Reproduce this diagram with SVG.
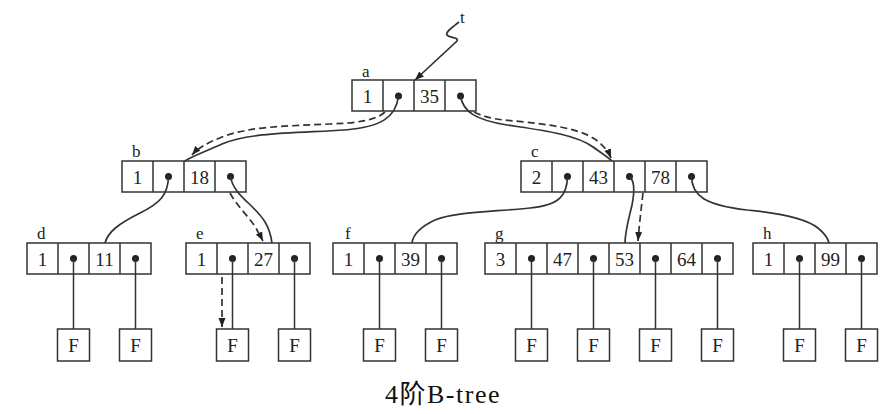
<svg xmlns="http://www.w3.org/2000/svg" width="894" height="414" viewBox="0 0 894 414">
<defs>
<style>
.cell{fill:none;stroke:#333;stroke-width:1.5}
.num{font-family:"Liberation Serif",serif;font-size:19px;fill:#222;text-anchor:middle}
.lbl{font-family:"Liberation Serif",serif;font-size:17px;fill:#222}
.dot{fill:#222}
.ptr{stroke:#333;stroke-width:1.5;fill:none}
.con{stroke:#333;stroke-width:1.7;fill:none}
.dash{stroke:#333;stroke-width:1.7;fill:none;stroke-dasharray:7 4}
.cap{font-family:"Liberation Serif",serif;font-size:26px;fill:#111;letter-spacing:1.5px}
.cjk{font-family:"Noto Sans CJK SC",sans-serif}
</style>
<marker id="arr" markerUnits="userSpaceOnUse" markerWidth="10" markerHeight="8" refX="9" refY="3.5" orient="auto">
<path d="M0,0 L9,3.5 L0,7 z" fill="#222"/>
</marker>
</defs>
<rect width="894" height="414" fill="#fff"/>

<!-- node a -->
<g id="node-a">
<rect class="cell" x="352" y="80" width="124" height="31"/>
<path class="cell" d="M383,80V111M414,80V111M445,80V111"/>
<text class="lbl" x="362" y="77">a</text>
<text class="num" x="367.5" y="103">1</text>
<text class="num" x="429.5" y="103">35</text>
<circle class="dot" cx="398.5" cy="96" r="3.5"/>
<circle class="dot" cx="460.5" cy="96" r="3.5"/>
</g>

<!-- node b -->
<g id="node-b">
<rect class="cell" x="122" y="161" width="124" height="31"/>
<path class="cell" d="M153,161V192M184,161V192M215,161V192"/>
<text class="lbl" x="132" y="157">b</text>
<text class="num" x="137.5" y="184">1</text>
<text class="num" x="199.5" y="184">18</text>
<circle class="dot" cx="168.5" cy="176.5" r="3.5"/>
<circle class="dot" cx="230.5" cy="176.5" r="3.5"/>
</g>

<!-- node c -->
<g id="node-c">
<rect class="cell" x="521" y="161" width="186" height="31"/>
<path class="cell" d="M552,161V192M583,161V192M614,161V192M645,161V192M676,161V192"/>
<text class="lbl" x="531" y="157">c</text>
<text class="num" x="536.5" y="184">2</text>
<text class="num" x="598.5" y="184">43</text>
<text class="num" x="660.5" y="184">78</text>
<circle class="dot" cx="567.5" cy="176.5" r="3.5"/>
<circle class="dot" cx="629.5" cy="176.5" r="3.5"/>
<circle class="dot" cx="691.5" cy="176.5" r="3.5"/>
</g>

<!-- node d -->
<g id="node-d">
<rect class="cell" x="27" y="243" width="124" height="31"/>
<path class="cell" d="M58,243V274M89,243V274M120,243V274"/>
<text class="lbl" x="37" y="239">d</text>
<text class="num" x="42.5" y="266">1</text>
<text class="num" x="104.5" y="266">11</text>
<circle class="dot" cx="73.5" cy="258.5" r="3.5"/>
<circle class="dot" cx="135.5" cy="258.5" r="3.5"/>
</g>

<!-- node e -->
<g id="node-e">
<rect class="cell" x="186" y="243" width="124" height="31"/>
<path class="cell" d="M217,243V274M248,243V274M279,243V274"/>
<text class="lbl" x="196" y="239">e</text>
<text class="num" x="201.5" y="266">1</text>
<text class="num" x="263.5" y="266">27</text>
<circle class="dot" cx="232.5" cy="258.5" r="3.5"/>
<circle class="dot" cx="294.5" cy="258.5" r="3.5"/>
</g>

<!-- node f -->
<g id="node-f">
<rect class="cell" x="333" y="243" width="124" height="31"/>
<path class="cell" d="M364,243V274M395,243V274M426,243V274"/>
<text class="lbl" x="345" y="239">f</text>
<text class="num" x="348.5" y="266">1</text>
<text class="num" x="410.5" y="266">39</text>
<circle class="dot" cx="379.5" cy="258.5" r="3.5"/>
<circle class="dot" cx="441.5" cy="258.5" r="3.5"/>
</g>

<!-- node g -->
<g id="node-g">
<rect class="cell" x="485" y="243" width="248" height="31"/>
<path class="cell" d="M516,243V274M547,243V274M578,243V274M609,243V274M640,243V274M671,243V274M702,243V274"/>
<text class="lbl" x="495" y="239">g</text>
<text class="num" x="500.5" y="266">3</text>
<text class="num" x="562.5" y="266">47</text>
<text class="num" x="624.5" y="266">53</text>
<text class="num" x="686.5" y="266">64</text>
<circle class="dot" cx="531.5" cy="258.5" r="3.5"/>
<circle class="dot" cx="593.5" cy="258.5" r="3.5"/>
<circle class="dot" cx="655.5" cy="258.5" r="3.5"/>
<circle class="dot" cx="717.5" cy="258.5" r="3.5"/>
</g>

<!-- node h -->
<g id="node-h">
<rect class="cell" x="753" y="243" width="124" height="31"/>
<path class="cell" d="M784,243V274M815,243V274M846,243V274"/>
<text class="lbl" x="763" y="239">h</text>
<text class="num" x="768.5" y="266">1</text>
<text class="num" x="830.5" y="266">99</text>
<circle class="dot" cx="799.5" cy="258.5" r="3.5"/>
<circle class="dot" cx="861.5" cy="258.5" r="3.5"/>
</g>

<!-- failure leaves -->
<g id="leaves">
<g id="F1"><rect class="cell" x="57.5" y="329" width="32" height="32"/><text class="num" x="73.5" y="352">F</text></g>
<g id="F2"><rect class="cell" x="119.5" y="329" width="32" height="32"/><text class="num" x="135.5" y="352">F</text></g>
<g id="F3"><rect class="cell" x="216.5" y="329" width="32" height="32"/><text class="num" x="232.5" y="352">F</text></g>
<g id="F4"><rect class="cell" x="278.5" y="329" width="32" height="32"/><text class="num" x="294.5" y="352">F</text></g>
<g id="F5"><rect class="cell" x="363.5" y="329" width="32" height="32"/><text class="num" x="379.5" y="352">F</text></g>
<g id="F6"><rect class="cell" x="425.5" y="329" width="32" height="32"/><text class="num" x="441.5" y="352">F</text></g>
<g id="F7"><rect class="cell" x="515.5" y="329" width="32" height="32"/><text class="num" x="531.5" y="352">F</text></g>
<g id="F8"><rect class="cell" x="577.5" y="329" width="32" height="32"/><text class="num" x="593.5" y="352">F</text></g>
<g id="F9"><rect class="cell" x="639.5" y="329" width="32" height="32"/><text class="num" x="655.5" y="352">F</text></g>
<g id="F10"><rect class="cell" x="701.5" y="329" width="32" height="32"/><text class="num" x="717.5" y="352">F</text></g>
<g id="F11"><rect class="cell" x="783.5" y="329" width="32" height="32"/><text class="num" x="799.5" y="352">F</text></g>
<g id="F12"><rect class="cell" x="845.5" y="329" width="32" height="32"/><text class="num" x="861.5" y="352">F</text></g>
</g>

<!-- connectors -->
<g id="connectors">
<path class="ptr" d="M73.5,258.5V329M135.5,258.5V329M232.5,258.5V329M294.5,258.5V329M379.5,258.5V329M441.5,258.5V329M531.5,258.5V329M593.5,258.5V329M655.5,258.5V329M717.5,258.5V329M799.5,258.5V329M861.5,258.5V329"/>
<!-- t pointer -->
<text class="lbl" x="460" y="23">t</text>
<path class="con" d="M459,22 C453,27 445,32 447,35 C449,38 459,37 457,41 L415,80" marker-end="url(#arr)"/>
<!-- a -> b -->
<path class="con" d="M398.5,96 C396,118 380,127 345,130 C300,133 250,132 222,144 C202,153 190,157 185,161"/>
<path class="dash" d="M385,112 C375,121 355,123 330,124 C290,126 250,126 222,137 C207,143 198,148 192,155" marker-end="url(#arr)"/>
<!-- a -> c -->
<path class="con" d="M460.5,96 C463,112 476,120 507,125 C540,130 575,134 593,147 C603,154 609,158 612,161"/>
<path class="dash" d="M474,112 C490,120 505,120 525,122 C560,126 585,130 600,143 C606,149 609,153 611,158" marker-end="url(#arr)"/>
<!-- b -> d -->
<path class="con" d="M168.5,176.5 C168,195 160,203 140,213 C118,224 108,232 105,243"/>
<!-- b -> e -->
<path class="con" d="M230.5,176.5 C233,195 255,205 265,222 C270,230 271,236 272,243"/>
<path class="dash" d="M230,193 C236,205 252,220 257,230 C260,236 262,239 263,241" marker-end="url(#arr)"/>
<!-- c -> f -->
<path class="con" d="M567.5,176.5 C567,195 560,205 530,208 C490,212 455,212 435,220 C420,227 413,235 412,243"/>
<!-- c -> g -->
<path class="con" d="M629.5,176.5 C636,182 634,195 632,205 C628,222 625,232 625,243"/>
<path class="dash" d="M643,193 C641,210 639,228 638,241" marker-end="url(#arr)"/>
<!-- c -> h -->
<path class="con" d="M691.5,176.5 C692,196 705,205 747,210 C780,213 805,218 818,228 C824,233 828,238 829,243"/>
<!-- e search path down -->
<path class="dash" d="M222,277 V327" marker-end="url(#arr)"/>
</g>

<text class="cap" x="385" y="403">4<tspan class="cjk">阶</tspan>B-tree</text>
</svg>
